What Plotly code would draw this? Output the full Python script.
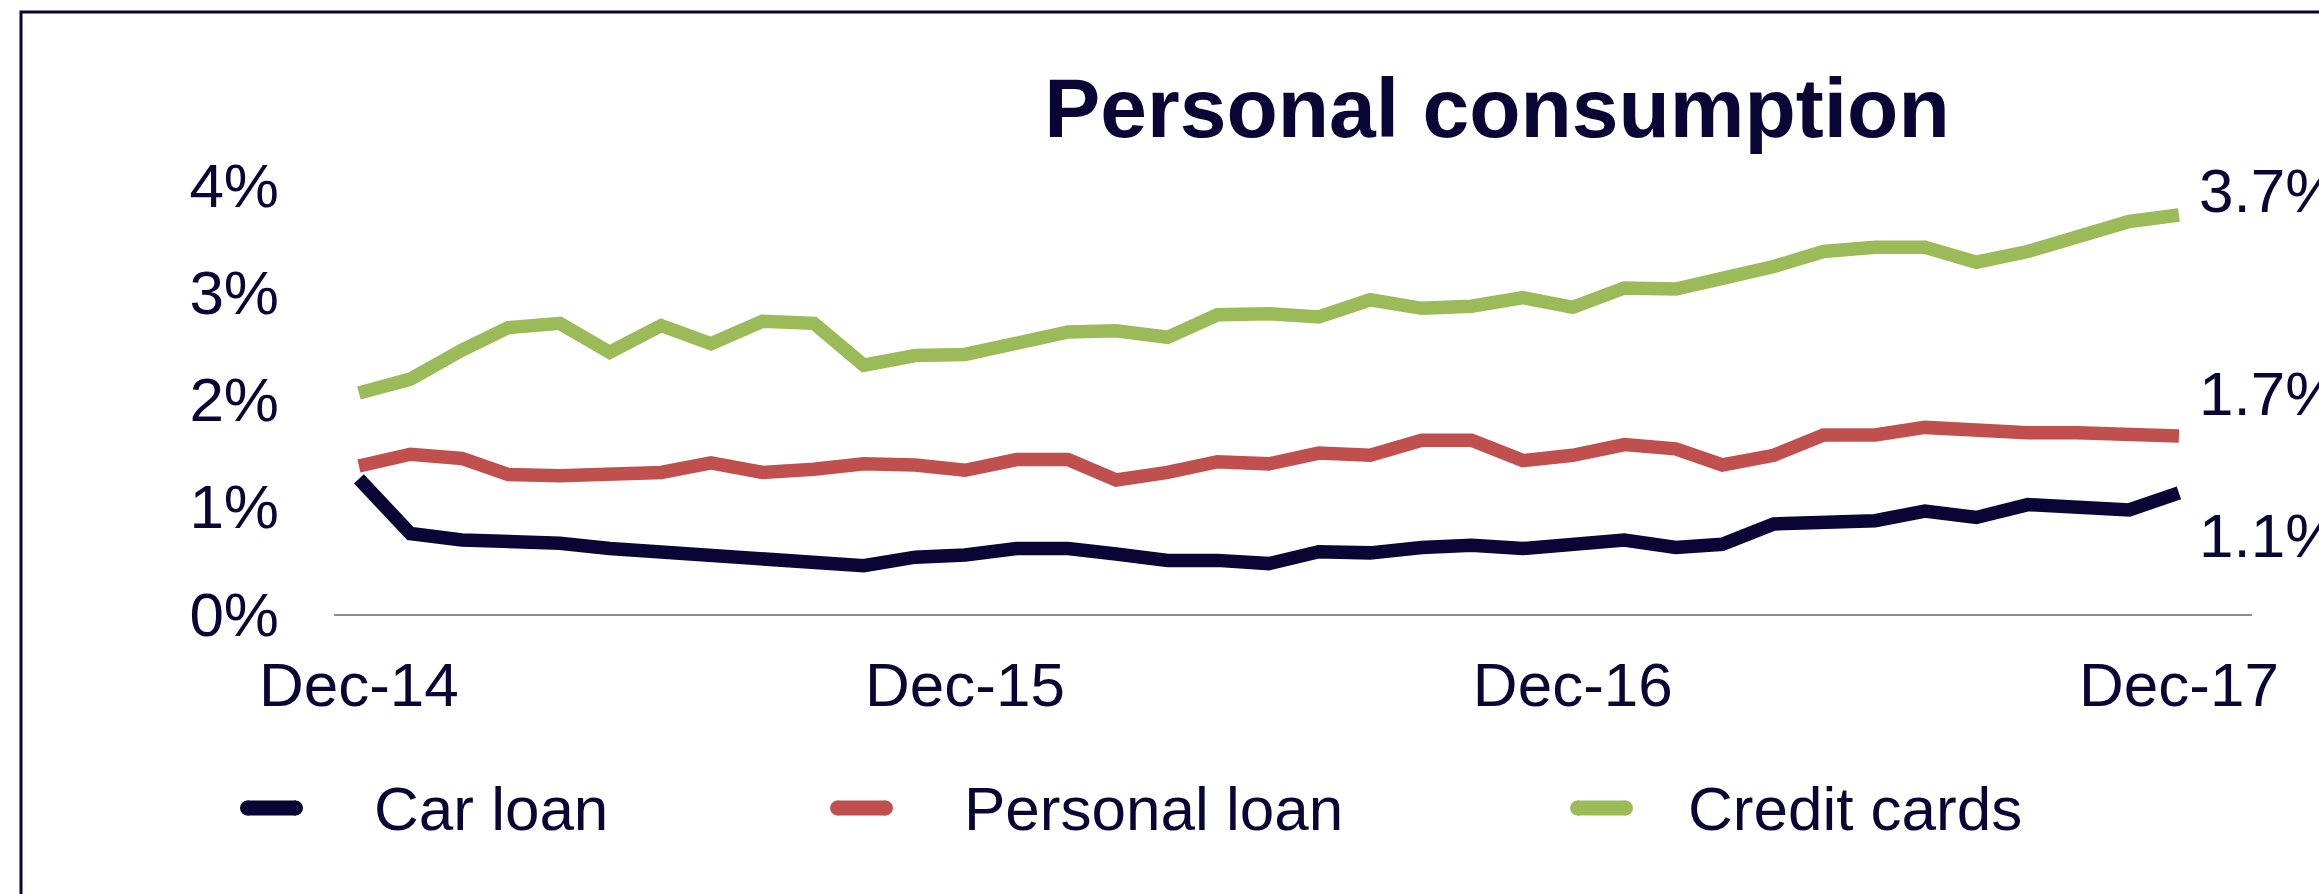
import pandas as pd
import plotly.graph_objects as go

# Monthly series, Dec-14 .. Dec-17 (percent)
months = pd.date_range("2014-12-01", periods=37, freq="MS")

car_loan = [1.26, 0.75, 0.69, 0.69, 0.66, 0.61, 0.58, 0.56, 0.53, 0.48, 0.45, 0.53, 0.55,
            0.61, 0.61, 0.56, 0.50, 0.50, 0.47, 0.58, 0.57, 0.62, 0.64, 0.61, 0.65,
            0.69, 0.62, 0.65, 0.84, 0.87, 0.87, 0.96, 0.90, 1.02, 1.00, 0.97, 1.13]

personal_loan = [1.38, 1.49, 1.45, 1.30, 1.29, 1.31, 1.32, 1.41, 1.32, 1.35, 1.40, 1.39, 1.34,
                 1.44, 1.44, 1.25, 1.32, 1.42, 1.40, 1.50, 1.48, 1.62, 1.62, 1.43, 1.48,
                 1.58, 1.54, 1.39, 1.48, 1.67, 1.67, 1.74, 1.71, 1.69, 1.69, 1.67, 1.66]

credit_cards = [2.06, 2.19, 2.46, 2.67, 2.71, 2.44, 2.69, 2.52, 2.73, 2.71, 2.32, 2.41, 2.42,
                2.54, 2.63, 2.64, 2.58, 2.79, 2.80, 2.77, 2.93, 2.85, 2.87, 2.95, 2.86,
                3.04, 3.03, 3.13, 3.24, 3.38, 3.42, 3.42, 3.28, 3.38, 3.52, 3.66, 3.72]

series_names = ["Car loan", "Personal loan", "Credit cards"]
series_values = [car_loan, personal_loan, credit_cards]

y_tick_values = [0, 1, 2, 3, 4]
y_tick_labels = ["0%", "1%", "2%", "3%", "4%"]
x_tick_dates = ["2014-12-01", "2015-12-01", "2016-12-01", "2017-12-01"]
x_tick_labels = ["Dec-14", "Dec-15", "Dec-16", "Dec-17"]

# Styling
NAVY = "#0b0536"
colors = [NAVY, "#c0504d", "#9bbb59"]
end_label_shift = [-43, 42, 25]       # vertical offset of the end-of-line value labels
FONT = "Liberation Sans, Arial, sans-serif"

W, H = 2319, 894
L, R, T, B = 334, 67, 185, 280
PW, PH = W - L - R, H - T - B


def px_x(p):
    return (p - L) / PW


def px_y(p):
    return (H - B - p) / PH


fig = go.Figure()
for name, vals, col in zip(series_names, series_values, colors):
    fig.add_trace(go.Scatter(
        x=months, y=vals, name=name, mode="lines",
        line=dict(color=col, width=13.5), showlegend=False,
        hovertemplate="%{x|%b-%y}: %{y:.2f}%<extra>" + name + "</extra>",
    ))

# value labels at the end of each line
for vals, dy in zip(series_values, end_label_shift):
    fig.add_annotation(
        x=months[-1], y=vals[-1], xref="x", yref="y",
        text=f"{vals[-1]:.1f}%", showarrow=False,
        xanchor="left", yanchor="middle", xshift=18, yshift=dy,
        font=dict(family=FONT, size=62, color=NAVY),
    )

# legend row: swatch + label per series
legend_swatch_x = [240, 830, 1570]
legend_text_x = [372, 962, 1686]
legend_y = 808
for name, col, sx, tx in zip(series_names, colors, legend_swatch_x, legend_text_x):
    fig.add_shape(
        type="line", xref="paper", yref="paper",
        x0=px_x(sx + 7), x1=px_x(sx + 56), y0=px_y(legend_y), y1=px_y(legend_y),
        line=dict(color=col, width=15),
    )
    fig.add_shape(
        type="circle", xref="paper", yref="paper",
        x0=px_x(sx), x1=px_x(sx + 15), y0=px_y(legend_y + 7.5), y1=px_y(legend_y - 7.5),
        fillcolor=col, line=dict(width=0),
    )
    fig.add_shape(
        type="circle", xref="paper", yref="paper",
        x0=px_x(sx + 48), x1=px_x(sx + 63), y0=px_y(legend_y + 7.5), y1=px_y(legend_y - 7.5),
        fillcolor=col, line=dict(width=0),
    )
    fig.add_annotation(
        x=px_x(tx), y=px_y(legend_y), xref="paper", yref="paper",
        text=name, showarrow=False, xanchor="left", yanchor="middle",
        font=dict(family=FONT, size=62, color=NAVY),
    )

# outer frame
fig.add_shape(
    type="rect", xref="paper", yref="paper",
    x0=px_x(21), x1=px_x(W + 20), y0=px_y(12), y1=px_y(H + 20),
    line=dict(color=NAVY, width=3), fillcolor="rgba(0,0,0,0)", layer="below",
)

fig.update_layout(
    width=W, height=H,
    margin=dict(l=L, r=R, t=T, b=B),
    paper_bgcolor="white", plot_bgcolor="white",
    font=dict(family=FONT, color=NAVY),
    title=dict(
        text="<b>Personal consumption</b>", xref="container", yref="container",
        x=1497 / W, xanchor="center", y=1 - 108 / H, yanchor="middle",
        font=dict(family=FONT, size=84, color=NAVY),
    ),
    xaxis=dict(
        range=["2014-11-16", "2018-01-14"],
        tickvals=x_tick_dates, ticktext=x_tick_labels,
        showgrid=False, zeroline=False,
        showline=True, linecolor="#8c8c8c", linewidth=2,
        ticks="", ticklabelstandoff=16,
        tickfont=dict(family=FONT, size=62, color=NAVY),
    ),
    yaxis=dict(
        range=[0, 4], tickvals=y_tick_values, ticktext=y_tick_labels,
        showgrid=False, zeroline=False, showline=False,
        ticks="", ticklabelstandoff=54,
        tickfont=dict(family=FONT, size=62, color=NAVY),
    ),
    showlegend=False,
)

fig.write_html("out.html")
